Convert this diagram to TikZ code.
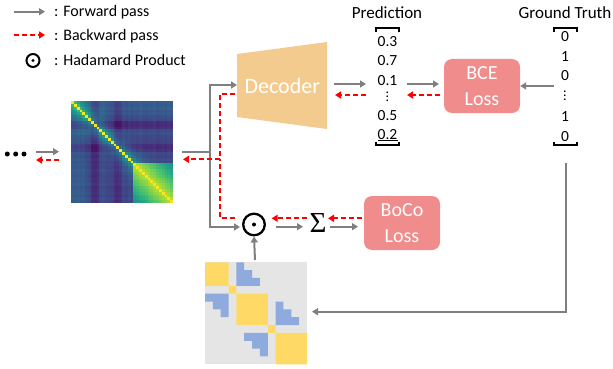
\documentclass[tikz,border=0pt]{standalone}
\usepackage{fontspec}
\setmainfont{Carlito}
\newfontfamily\sigfont{Liberation Serif}
\usetikzlibrary{arrows.meta,calc}
\definecolor{fgray}{HTML}{7F7F7F}
\definecolor{bred}{HTML}{FF0000}
\definecolor{decfill}{HTML}{F4CB8F}
\definecolor{lossfill}{HTML}{F08C8C}
\definecolor{myyellow}{HTML}{FFD966}
\definecolor{myblue}{HTML}{8FAADC}
\definecolor{mygray}{HTML}{E5E5E5}
\definecolor{vir0}{HTML}{440154}
\definecolor{vir1}{HTML}{482475}
\definecolor{vir2}{HTML}{414487}
\definecolor{vir3}{HTML}{355F8D}
\definecolor{vir4}{HTML}{2A788E}
\definecolor{vir5}{HTML}{21918C}
\definecolor{vir6}{HTML}{22A884}
\definecolor{vir7}{HTML}{44BF70}
\definecolor{vir8}{HTML}{7AD151}
\definecolor{vir9}{HTML}{BDDF26}
\definecolor{vir10}{HTML}{FDE725}
\def\offarr{{0.05,0.04,0.06,0.03,0.04,0.0,-0.02,-0.11,-0.12,-0.10,-0.02,0.0,-0.03,-0.04,-0.05,-0.11,-0.12,-0.10,-0.03,-0.05,-0.02,-0.04,-0.02,-0.03,0.0,-0.02,-0.03,-0.01,-0.02,0.0,-0.03,-0.02,-0.01,-0.03,0.0,-0.02}}
\newcommand{\mydots}{\vbox{\baselineskip=4.2pt\lineskiplimit=0pt\hbox{.}\hbox{.}\hbox{.}}}
\begin{document}
\begin{tikzpicture}[x=1pt,y=-1pt,
  fwd/.style={draw=fgray, line width=2pt, -{Triangle[length=6pt,width=7pt]}},
  fwdline/.style={draw=fgray, line width=2pt},
  bwd/.style={draw=bred, line width=2pt, dash pattern=on 5pt off 3pt, -{Triangle[length=6pt,width=7pt]}},
  bwdline/.style={draw=bred, line width=2pt, dash pattern=on 5pt off 3pt},
  lbl/.style={inner sep=0, font=\fontsize{15.5}{18}\selectfont},
  leg/.style={inner sep=0, anchor=base west, font=\fontsize{16}{19}\selectfont},
  ttl/.style={inner sep=0, anchor=base, font=\fontsize{17}{20}\selectfont},
  lossbox/.style={fill=lossfill, rounded corners=8pt, minimum width=76pt, minimum height=54pt, inner sep=0, align=center, text=white, font=\fontsize{20}{26}\selectfont},
  hada/.style={circle, draw=black, line width=2.3pt, minimum size=21.6pt, inner sep=0},
  brk/.style={draw=black, line width=1.8pt},
  vdt/.style={inner sep=0, anchor=south, font=\fontsize{14}{16}\selectfont}]
\useasboundingbox (0,0) rectangle (613,369);

% ---------- legend ----------
\coordinate (lg1a) at (14,11.7); \coordinate (lg1b) at (45,11.7);
\coordinate (lg2a) at (14,35); \coordinate (lg2b) at (45,35);
\draw[fwd] (lg1a) -- (lg1b);
\draw[bwd] (lg2a) -- (lg2b);
\node[leg] (lgt1) at (54,16.5) {: Forward pass};
\node[leg] (lgt2) at (54,40.5) {: Backward pass};
\node[hada, line width=2pt, minimum size=13pt] (lghad) at (33,60.5) {};
\fill (lghad.center) circle (1.6pt);
\node[leg] (lgt3) at (54,65.5) {: Hadamard Product};

% ---------- dots on left ----------
\fill (7.3,154) circle (2.5pt) (15.7,154) circle (2.5pt) (24,154) circle (2.5pt);
\coordinate (la) at (36,151.7); \coordinate (lb) at (59,151.7);
\coordinate (lc) at (59,160); \coordinate (ld) at (36,160);
\draw[fwd] (la) -- (lb);
\draw[bwd] (lc) -- (ld);

% ---------- heatmap ----------
\node[minimum size=102pt, inner sep=0] (hm) at (122,152) {};
\begin{scope}[shift={(71,101)}]
\foreach \i in {0,...,35}{
 \foreach \j in {0,...,35}{
  \pgfmathsetmacro\oi{\offarr[\i]}
  \pgfmathsetmacro\oj{\offarr[\j]}
  \pgfmathsetmacro\dd{abs(\i-\j)}
  \pgfmathsetmacro\vv{(\i==\j) ? 0.99 : (((\i>21) && (\j>21)) ? (0.93-0.031*\dd+0.5*(\oi+\oj)) : (0.26+0.45*exp(-\dd/2.8)+\oi+\oj))}
  \pgfmathsetmacro\vv{max(0.02,min(0.99,\vv))}
  \pgfmathtruncatemacro\kk{floor(\vv*10)}
  \pgfmathtruncatemacro\kn{\kk+1}
  \pgfmathtruncatemacro\pp{round(100*(\kn-\vv*10))}
  \fill[vir\kk!\pp!vir\kn] (\j*2.8333,\i*2.8333) rectangle +(2.95,2.95);
 }}
\end{scope}

% ---------- split to decoder / hadamard ----------
\coordinate (hmout) at (182,151.7);
\coordinate (split) at (210,151.7);
\coordinate (decin) at (237,85);
\coordinate (hadin) at (240,227);
\draw[fwdline] (hmout) -- (split);
\draw[fwd] (split) |- (decin);
\draw[fwd] (split) |- (hadin);
\coordinate (decback) at (235,94);
\coordinate (hadback) at (235,217.5);
\coordinate (rsplit) at (220,159.3);
\coordinate (hmback) at (183,159.3);
\draw[bwdline] (decback) -| (rsplit);
\draw[bwdline] (hadback) -| (rsplit);
\draw[bwd] (rsplit) -- (hmback);

% ---------- decoder ----------
\fill[decfill] (237,54) -- (327,42) -- (327,129) -- (237,117) -- cycle;
\node[inner sep=0, anchor=base, text=white, font=\fontsize{22}{26}\selectfont] (dec) at (282.3,93.3) {Decoder};
\coordinate (dA) at (334,84); \coordinate (dB) at (366,84);
\coordinate (dC) at (366,95); \coordinate (dD) at (335,95);
\draw[fwd] (dA) -- (dB);
\draw[bwd] (dC) -- (dD);

% ---------- prediction ----------
\node[ttl] (predt) at (387,18.5) {Prediction};
\draw[brk] (376,32) -- (376,28.3) -- (399,28.3) -- (399,32);
\draw[brk] (376,141.5) -- (376,145.3) -- (399,145.3) -- (399,141.5);
\node[lbl] (p1) at (387.5,42) {0.3};
\node[lbl] (p2) at (387.5,60.7) {0.7};
\node[lbl] (p3) at (387.5,80.3) {0.1};
\node[vdt] (p4) at (387.5,102) {\mydots};
\node[lbl] (p5) at (387.5,116) {0.5};
\node[lbl] (p6) at (387.5,134.7) {0.2};
\draw[line width=1pt] (378,140.3) -- (398,140.3);
\coordinate (pA) at (407,84); \coordinate (pB) at (439,84);
\coordinate (pC) at (440,95); \coordinate (pD) at (407,95);
\draw[fwd] (pA) -- (pB);
\draw[bwd] (pC) -- (pD);

% ---------- BCE loss ----------
\node[lossbox] (bce) at (482,86) {BCE\\Loss};

% ---------- ground truth ----------
\node[ttl] (gtt) at (565,18.5) {Ground Truth};
\draw[brk] (554,32) -- (554,28.3) -- (577,28.3) -- (577,32);
\draw[brk] (554,141.5) -- (554,145.3) -- (577,145.3) -- (577,141.5);
\node[lbl] (g1) at (565,36.7) {0};
\node[lbl] (g2) at (565,56.7) {1};
\node[lbl] (g3) at (565,75.3) {0};
\node[vdt] (g4) at (565,101) {\mydots};
\node[lbl] (g5) at (565,117) {1};
\node[lbl] (g6) at (565,136.7) {0};
\coordinate (gA) at (554,86);
\draw[fwd] (gA) -- (bce.east);
\coordinate (gtb) at (566,163);
\coordinate (maskin) at (312,311.7);
\draw[fwd] (gtb) |- (maskin);

% ---------- hadamard, sum, BoCo ----------
\node[hada] (had) at (254,224.5) {};
\fill (had.center) circle (2pt);
\node[inner sep=0, font=\sigfont\fontsize{29}{32}\selectfont] (sig) at (318,223) {Σ};
\node[lossbox] (boco) at (402,223) {BoCo\\Loss};
\coordinate (hA) at (276,226.7); \coordinate (hB) at (303,226.7);
\coordinate (hC) at (306.7,218.3); \coordinate (hD) at (271.7,218.3);
\draw[fwd] (hA) -- (hB);
\draw[bwd] (hC) -- (hD);
\coordinate (sA) at (330,226.7); \coordinate (sB) at (358,226.7);
\coordinate (sC) at (361.7,218.3); \coordinate (sD) at (328,218.3);
\draw[fwd] (sA) -- (sB);
\draw[bwd] (sC) -- (sD);

% ---------- mask ----------
\node[minimum size=102pt, inner sep=0] (mask) at (256,313.3) {};
\begin{scope}[shift={(205,262.3)}, x=7.846pt, y=-7.846pt]
\fill[mygray] (0,0) rectangle (13,13);
\fill[myyellow] (0,0) rectangle (3,3) (3,3) rectangle (4,4) (4,4) rectangle (8,8) (8,8) rectangle (9,9) (9,9) rectangle (13,13);
\fill[myblue] (4,0) -- (5,0) -- (5,1) -- (6,1) -- (6,2) -- (7,2) -- (7,3) -- (4,3) -- cycle;
\fill[myblue] (0,4) -- (3,4) -- (3,7) -- (2,7) -- (2,6) -- (1,6) -- (1,5) -- (0,5) -- cycle;
\fill[myblue] (9,5) -- (10,5) -- (10,6) -- (11,6) -- (11,7) -- (12,7) -- (12,8) -- (9,8) -- cycle;
\fill[myblue] (5,9) -- (8,9) -- (8,12) -- (7,12) -- (7,11) -- (6,11) -- (6,10) -- (5,10) -- cycle;
\end{scope}
\coordinate (mout) at (255,260);
\draw[fwd] (mout) -- (had.south);
\end{tikzpicture}
\end{document}
